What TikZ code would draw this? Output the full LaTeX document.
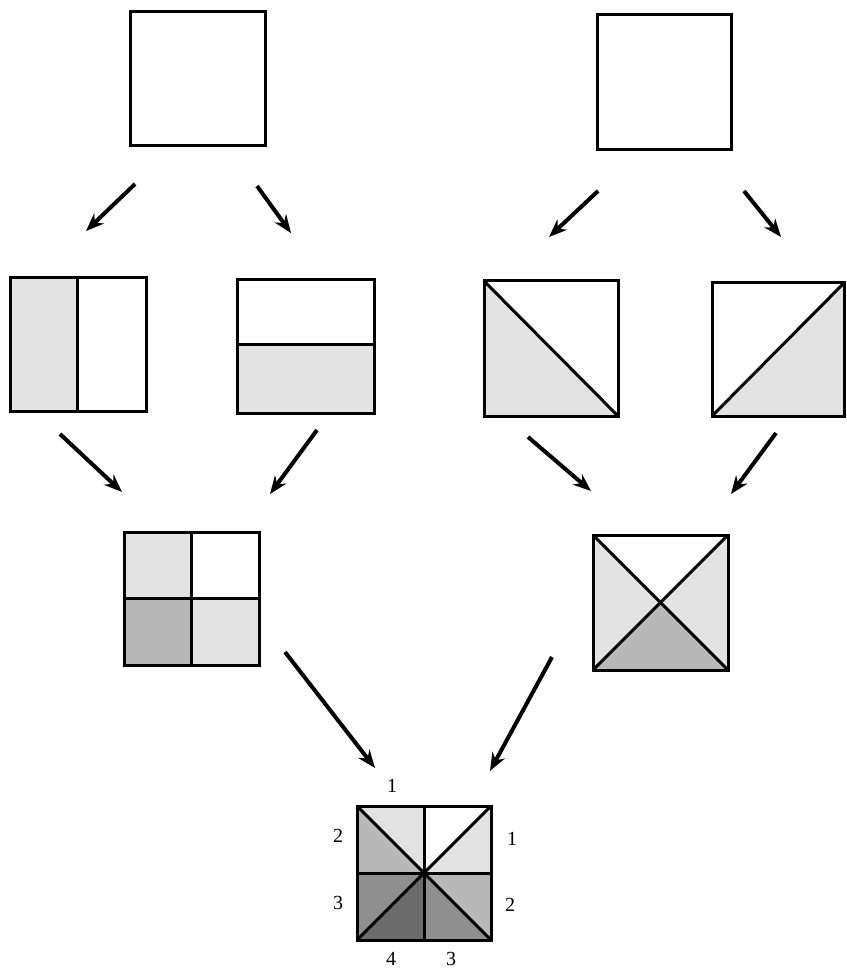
\documentclass[tikz,border=0pt]{standalone}
\usepackage{fontspec}
\setmainfont{Liberation Serif}
\usetikzlibrary{arrows.meta}
\definecolor{tone1}{gray}{0.89}
\definecolor{tone2}{gray}{0.72}
\definecolor{tone3}{gray}{0.56}
\definecolor{tone4}{gray}{0.42}
\tikzset{arr/.style={line width=2pt, -{Stealth[length=9pt, width=7pt]}}}

\begin{document}
\begin{tikzpicture}[x=0.5pt, y=-0.5pt, line width=1.5pt]
    \useasboundingbox (0,0) rectangle (846,972);
    % top row
    \draw (130,12) rectangle (265,146);
    \draw (597,15) rectangle (731,150);
    % second row
    \fill[tone1] (10,278) rectangle (77,411);
    \draw (10,278) rectangle (146,411);
    \draw (77,278) -- (77,411);
    \fill[tone1] (237,345) rectangle (374,413);
    \draw (237,280) rectangle (374,413);
    \draw (237,345) -- (374,345);
    \fill[tone1] (484,281) -- (484,416) -- (618,416) -- cycle;
    \draw (484,281) rectangle (618,416);
    \draw (484,281) -- (618,416);
    \fill[tone1] (712,416) -- (844,416) -- (844,283) -- cycle;
    \draw (712,283) rectangle (844,416);
    \draw (712,416) -- (844,283);
    % third row
    \fill[tone1] (124,532) rectangle (191,598);
    \fill[tone2] (124,598) rectangle (191,665);
    \fill[tone1] (191,598) rectangle (259,665);
    \draw (124,532) rectangle (259,665);
    \draw (191,532) -- (191,665);
    \draw (124,598) -- (259,598);
    \coordinate (O) at (660.5,602.5);
    \fill[tone1] (593,535) -- (O) -- (593,670) -- cycle;
    \fill[tone1] (728,535) -- (O) -- (728,670) -- cycle;
    \fill[tone2] (593,670) -- (O) -- (728,670) -- cycle;
    \draw (593,535) rectangle (728,670);
    \draw (593,535) -- (728,670);
    \draw (593,670) -- (728,535);
    % bottom square
    \coordinate (C) at (424,873);
    \coordinate (TL) at (357,806);
    \coordinate (TR) at (491,806);
    \coordinate (BL) at (357,940);
    \coordinate (BR) at (491,940);
    \coordinate (T) at (424,806);
    \coordinate (L) at (357,873);
    \coordinate (R) at (491,873);
    \coordinate (B) at (424,940);
    \fill[tone1] (C) -- (TL) -- (T) -- cycle;
    \fill[tone2] (C) -- (TL) -- (L) -- cycle;
    \fill[tone3] (C) -- (L) -- (BL) -- cycle;
    \fill[tone4] (C) -- (BL) -- (B) -- cycle;
    \fill[tone3] (C) -- (B) -- (BR) -- cycle;
    \fill[tone2] (C) -- (BR) -- (R) -- cycle;
    \fill[tone1] (C) -- (R) -- (TR) -- cycle;
    \draw (TL) rectangle (BR);
    \draw (T) -- (B);
    \draw (L) -- (R);
    \draw (TL) -- (BR);
    \draw (BL) -- (TR);
    \node[font=\fontsize{10}{12}\selectfont] (n1) at (392,786) {1};
    \node[font=\fontsize{10}{12}\selectfont] (n2) at (338,836) {2};
    \node[font=\fontsize{10}{12}\selectfont] (n3) at (512,839) {1};
    \node[font=\fontsize{10}{12}\selectfont] (n4) at (338,903) {3};
    \node[font=\fontsize{10}{12}\selectfont] (n5) at (510,905) {2};
    \node[font=\fontsize{10}{12}\selectfont] (n6) at (391,959) {4};
    \node[font=\fontsize{10}{12}\selectfont] (n7) at (451,959) {3};
    % arrows
    \coordinate (a1) at (135,184);  \coordinate (b1) at (86,231);
    \coordinate (a2) at (257,186);  \coordinate (b2) at (291,233);
    \coordinate (a3) at (598,191);  \coordinate (b3) at (549,237);
    \coordinate (a4) at (744,191);  \coordinate (b4) at (781,237);
    \coordinate (a5) at (60,434);   \coordinate (b5) at (122,492);
    \coordinate (a6) at (317,430);  \coordinate (b6) at (270,494);
    \coordinate (a7) at (528,437);  \coordinate (b7) at (591,491);
    \coordinate (a8) at (776,433);  \coordinate (b8) at (731,494);
    \coordinate (a9) at (285,652);  \coordinate (b9) at (375,768);
    \coordinate (a10) at (552,657); \coordinate (b10) at (490,771);
    \foreach \i in {1,...,10}
        \draw[arr] (a\i) -- (b\i);
\end{tikzpicture}
\end{document}
